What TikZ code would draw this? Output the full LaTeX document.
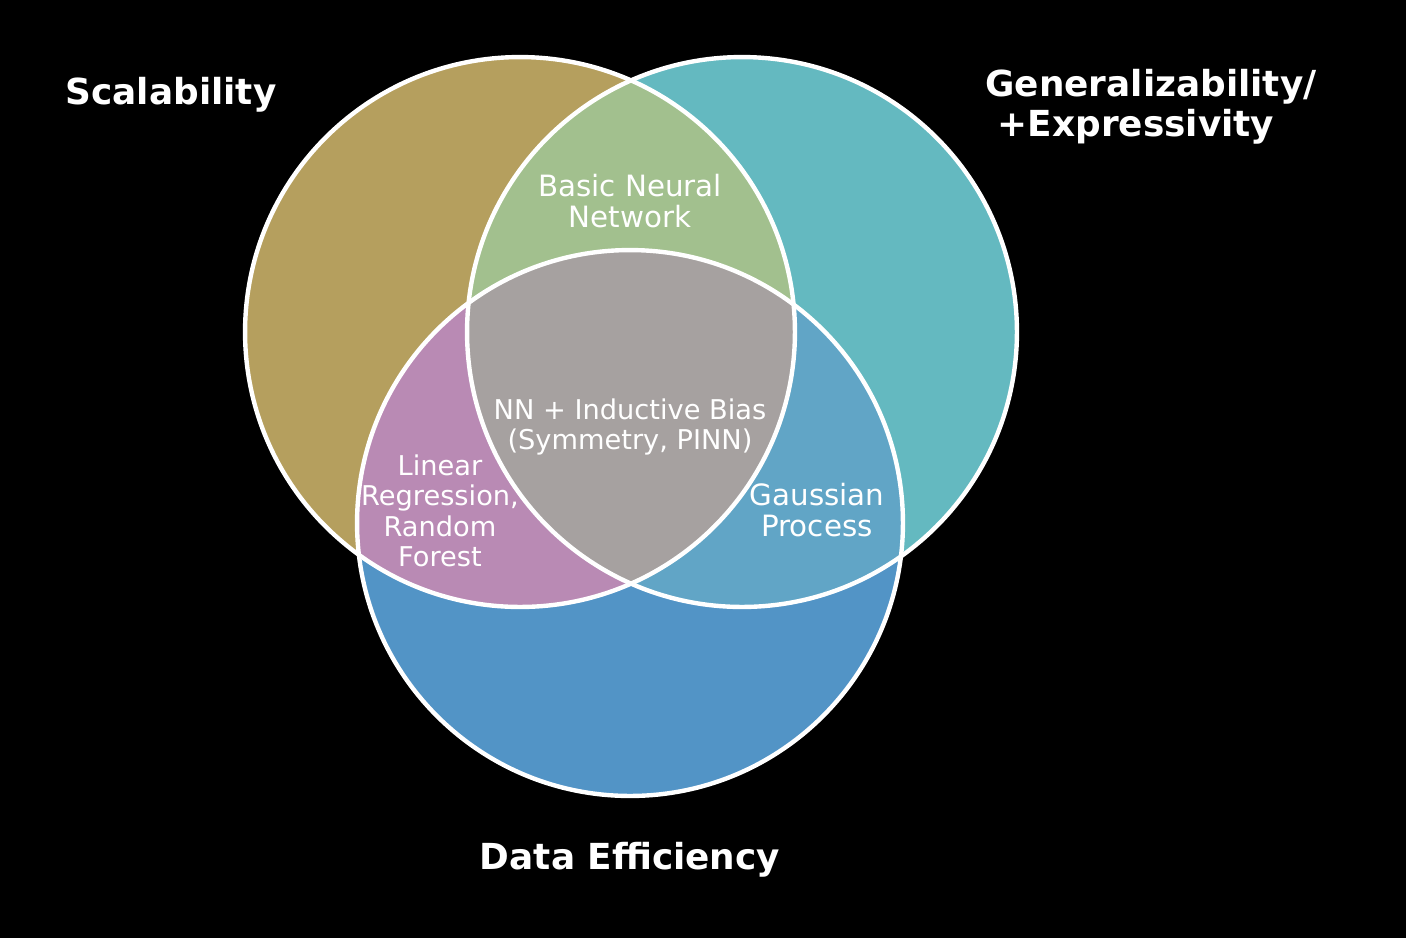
\documentclass[tikz,border=0pt]{standalone}
\usepackage{fontspec}
\setmainfont{DejaVu Sans}
\definecolor{cGold}{HTML}{B59F5E}
\definecolor{cTeal}{HTML}{64B9C0}
\definecolor{cBlue}{HTML}{5294C6}
\definecolor{cGreen}{HTML}{A2C08E}
\definecolor{cGray}{HTML}{A6A1A0}
\definecolor{cPink}{HTML}{B98AB4}
\definecolor{cLBlue}{HTML}{61A5C6}
\begin{document}
\begin{tikzpicture}[x=0.02cm,y=-0.02cm,
  region/.style={white,font=\fontsize{16.7pt}{17.8pt}\selectfont,align=center,inner sep=0pt},
  smallregion/.style={region,font=\fontsize{15.5pt}{17.3pt}\selectfont},
  setlabel/.style={white,font=\fontsize{20.4pt}{22.7pt}\selectfont\bfseries,inner sep=0pt},
  rim/.style={draw=white,line width=2.5pt}]
\fill[black] (0,0) rectangle (1406,938);
\useasboundingbox (0,0) rectangle (1406,938);
\def\cL{(520,332) circle[radius=5.5cm]}
\def\cR{(742,332) circle[radius=5.5cm]}
\def\cB{(630,523) circle[radius=5.46cm]}
\fill[cGold] \cL;
\fill[cTeal] \cR;
\fill[cBlue] \cB;
\begin{scope}\clip \cL; \fill[cGreen] \cR; \end{scope}
\begin{scope}\clip \cL; \fill[cPink] \cB; \end{scope}
\begin{scope}\clip \cR; \fill[cLBlue] \cB; \end{scope}
\begin{scope}\clip \cL; \clip \cR; \fill[cGray] \cB; \end{scope}
\draw[rim] \cL;
\draw[rim] \cR;
\draw[rim] \cB;
\node[region] (bnn) at (630,201) {Basic Neural\\Network};
\node[smallregion] (nnib) at (630,427) {NN + Inductive Bias\\(Symmetry, PINN)};
\node[smallregion] (lrrf) at (440,511) {Linear\\Regression,\\Random\\Forest};
\node[region] (gp) at (817,510) {Gaussian\\Process};
\node[setlabel] (scal) at (171,95) {Scalability};
\node[setlabel,align=left,anchor=west] (gen) at (985,107) {Generalizability/\\\hspace{0.35em}+Expressivity};
\node[setlabel] (data) at (630,860) {Data Efficiency};
\end{tikzpicture}
\end{document}
